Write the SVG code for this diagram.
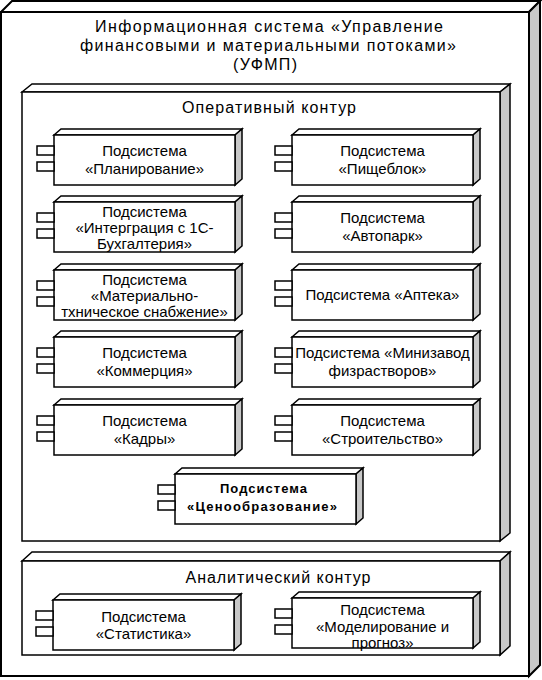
<svg xmlns="http://www.w3.org/2000/svg" xmlns:xlink="http://www.w3.org/1999/xlink" width="542" height="680" viewBox="0 0 542 680">
<style>
.f{fill:#fff;stroke:#000;stroke-width:1.5;stroke-linejoin:miter}
.s{fill:#c8c8c8;stroke:#000;stroke-width:1.5}
.o{fill:#fff;stroke:#000;stroke-width:2}
.os{fill:#c8c8c8;stroke:#000;stroke-width:2}
text{font-family:"Liberation Sans",Arial,sans-serif;fill:#000;text-anchor:middle}
.t{font-size:15px}
.h{font-size:16px}
.b{font-size:13px;font-weight:bold}
</style>
<defs>
<g id="comp">
<polygon class="f" points="0,0 7,-6 188,-6 181,0"/>
<polygon class="s" points="181,0 188,-6 188,44 181,50"/>
<rect class="f" x="0" y="0" width="181" height="50"/>
<rect class="f" x="-17" y="11" width="17" height="9"/>
<rect class="f" x="-17" y="27" width="17" height="9"/>
</g>
</defs>
<g id="system">
<polygon class="o" points="1,12 12,1 540,1 529,12"/>
<polygon class="os" points="529,12 540,1 540,665 529,676"/>
<rect class="o" x="1" y="12" width="528" height="664"/>
<text class="h" x="269" y="32" textLength="348" lengthAdjust="spacing">Информационная система «Управление</text>
<text class="h" x="268" y="51" textLength="376" lengthAdjust="spacing">финансовыми и материальными потоками»</text>
<text class="h" x="265" y="70" textLength="64" lengthAdjust="spacing">(УФМП)</text>
</g>
<g id="operative">
<polygon class="f" points="22,92 32,84 510,84 500,92"/>
<polygon class="s" points="500,92 510,84 510,533 500,541"/>
<rect class="f" x="22" y="92" width="478" height="449"/>
<text class="h" x="269" y="113" textLength="174" lengthAdjust="spacing">Оперативный контур</text>
</g>
<g id="analytic">
<polygon class="f" points="22,561 32,552 510,552 500,561"/>
<polygon class="s" points="500,561 510,552 510,646 500,655"/>
<rect class="f" x="22" y="561" width="478" height="94"/>
<text class="h" x="278" y="583" textLength="185" lengthAdjust="spacing">Аналитический контур</text>
</g>
<g id="planning">
<use xlink:href="#comp" x="54" y="135"/>
<text class="t" x="144.5" y="156">Подсистема</text>
<text class="t" x="144.5" y="174">«Планирование»</text>
</g>
<g id="integration">
<use xlink:href="#comp" x="54" y="202"/>
<text class="t" x="144.5" y="217">Подсистема</text>
<text class="t" x="144.5" y="233">«Интерграция с 1С-</text>
<text class="t" x="144.5" y="249">Бухгалтерия»</text>
</g>
<g id="supply">
<use xlink:href="#comp" x="54" y="270"/>
<text class="t" x="144.5" y="285">Подсистема</text>
<text class="t" x="144.5" y="301">«Материально-</text>
<text class="t" x="144.5" y="317">тхническое снабжение»</text>
</g>
<g id="commerce">
<use xlink:href="#comp" x="54" y="337"/>
<text class="t" x="144.5" y="358">Подсистема</text>
<text class="t" x="144.5" y="376">«Коммерция»</text>
</g>
<g id="hr">
<use xlink:href="#comp" x="54" y="405"/>
<text class="t" x="144.5" y="426">Подсистема</text>
<text class="t" x="144.5" y="444">«Кадры»</text>
</g>
<g id="kitchen">
<use xlink:href="#comp" x="292" y="135"/>
<text class="t" x="382.5" y="156">Подсистема</text>
<text class="t" x="382.5" y="174">«Пищеблок»</text>
</g>
<g id="autopark">
<use xlink:href="#comp" x="292" y="202"/>
<text class="t" x="382.5" y="223">Подсистема</text>
<text class="t" x="382.5" y="241">«Автопарк»</text>
</g>
<g id="pharmacy">
<use xlink:href="#comp" x="292" y="270"/>
<text class="t" x="382.5" y="300">Подсистема «Аптека»</text>
</g>
<g id="miniplant">
<use xlink:href="#comp" x="292" y="337"/>
<text class="t" x="382.5" y="358">Подсистема «Минизавод</text>
<text class="t" x="382.5" y="376">физрастворов»</text>
</g>
<g id="construction">
<use xlink:href="#comp" x="292" y="405"/>
<text class="t" x="382.5" y="426">Подсистема</text>
<text class="t" x="382.5" y="444">«Строительство»</text>
</g>
<g id="pricing">
<use xlink:href="#comp" x="175" y="474"/>
<text class="b" x="263.5" y="493" textLength="87" lengthAdjust="spacing">Подсистема</text>
<text class="b" x="262" y="511" textLength="150" lengthAdjust="spacing">«Ценообразование»</text>
</g>
<g id="statistics">
<use xlink:href="#comp" x="53" y="600"/>
<text class="t" x="143.5" y="622">Подсистема</text>
<text class="t" x="143.5" y="639">«Статистика»</text>
</g>
<g id="modeling">
<use xlink:href="#comp" x="292" y="598"/>
<text class="t" x="382.5" y="615">Подсистема</text>
<text class="t" x="382.5" y="632">«Моделирование и</text>
<text class="t" x="382.5" y="648">прогноз»</text>
</g>
<g id="connectors"/>
</svg>
